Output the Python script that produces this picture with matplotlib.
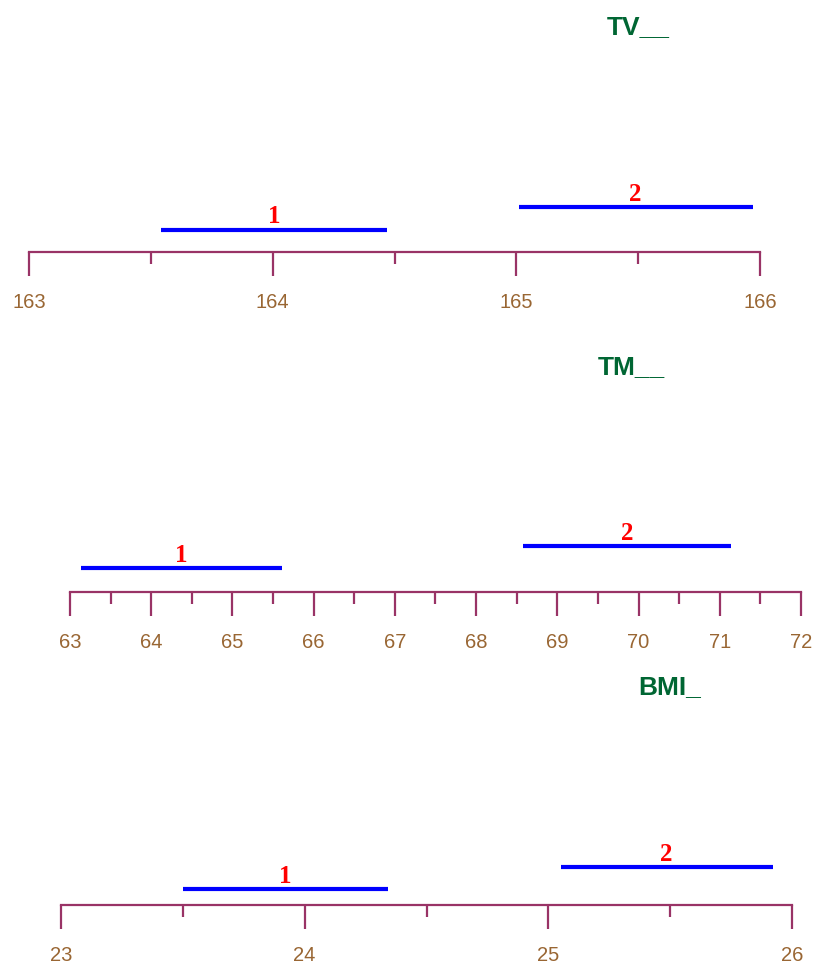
import matplotlib
matplotlib.use("Agg")
import matplotlib.pyplot as plt
from matplotlib.ticker import MultipleLocator

# Interval estimates per variable (low, high) for groups 1 and 2
titles = ["TV__", "TM__", "BMI_"]
group_labels = ["1", "2"]
tv_low = [163.54, 165.01]
tv_high = [164.47, 165.97]
tm_low = [63.14, 68.58]
tm_high = [65.61, 71.14]
bmi_low = [23.50, 25.05]
bmi_high = [24.34, 25.92]
tv_range = (163, 166)
tm_range = (63, 72)
bmi_range = (23, 26)
tv_ticks = [163, 164, 165, 166]
tm_ticks = [63, 64, 65, 66, 67, 68, 69, 70, 71, 72]
bmi_ticks = [23, 24, 25, 26]

W, H = 815, 961
fig = plt.figure(figsize=(W / 100, H / 100), dpi=100)

AXIS_C = "#993366"
TICK_C = "#996633"
TITLE_C = "#006633"

panels = [
    # (title, lows, highs, range, ticks, minor step, left px, right px, axis y px, row bottom, title x px, title y px)
    (titles[0], tv_low, tv_high, tv_range, tv_ticks, 0.5, 29, 760, 252, 0.0, 638, 27),
    (titles[1], tm_low, tm_high, tm_range, tm_ticks, 0.5, 70, 801, 592, -0.05, 631, 367),
    (titles[2], bmi_low, bmi_high, bmi_range, bmi_ticks, 0.5, 61, 792, 905, 0.30, 670, 687),
]

ROW_PX = 22.4
AX_H = 70

for (title, lows, highs, rng, ticks, minor, lpx, rpx, ypx, rb,
     tx, ty) in panels:
    ax = fig.add_axes([lpx / W, 1 - ypx / H, (rpx - lpx) / W, AX_H / H])
    ax.set_xlim(*rng)
    ax.set_ylim(rb, rb + AX_H / ROW_PX)
    for s in ("top", "left", "right"):
        ax.spines[s].set_visible(False)
    ax.spines["bottom"].set_color(AXIS_C)
    ax.spines["bottom"].set_linewidth(1.6)
    ax.set_yticks([])
    ax.set_xticks(ticks)
    ax.xaxis.set_minor_locator(MultipleLocator(minor))
    ax.tick_params(axis="x", which="major", direction="out", length=17,
                   width=1.6, color=AXIS_C, labelcolor=TICK_C,
                   labelsize=14.5, pad=12.5)
    ax.tick_params(axis="x", which="minor", direction="out", length=8.5,
                   width=1.6, color=AXIS_C)
    for lab in ax.get_xticklabels():
        lab.set_fontfamily("Liberation Sans")
    ax.patch.set_visible(False)

    rows = list(range(1, len(lows) + 1))
    ax.hlines(rows, lows, highs, colors="#0000FF", linewidth=3.0,
              capstyle="butt")
    for r, lo, hi, g in zip(rows, lows, highs, group_labels):
        ax.annotate(g, xy=((lo + hi) / 2, r), xytext=(0, 4.5),
                    textcoords="offset points", ha="center", va="baseline",
                    color="#FF0000", fontsize=18, fontweight="bold",
                    family="Liberation Serif", annotation_clip=False)

    fig.text(tx / W, 1 - ty / H, title, ha="center", va="center",
             color=TITLE_C, fontsize=19, fontweight="bold",
             family="Liberation Sans")

fig.savefig("out.png", dpi=100, facecolor="white")
